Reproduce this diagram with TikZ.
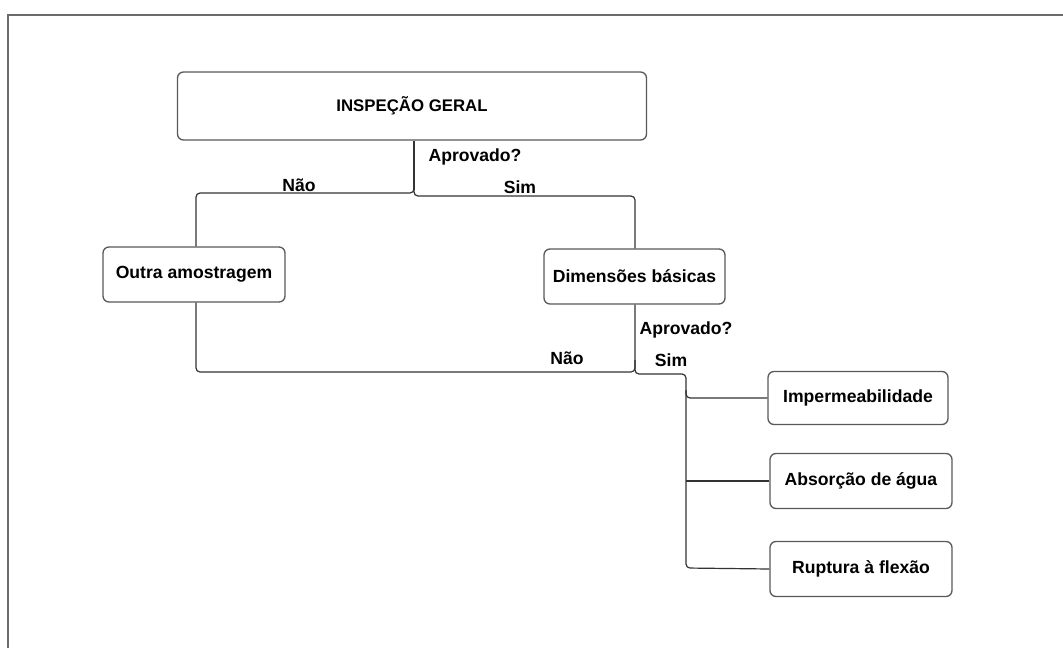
\documentclass[tikz,border=0pt]{standalone}
\usepackage{fontspec}
\setmainfont{Liberation Sans}
\begin{document}
\begin{tikzpicture}[x=1pt,y=-1pt,
  framecol/.style={draw=black!58,line width=2pt},
  stagebox/.style={draw=black!65,line width=1.3pt,rounded corners=6pt,fill=white,
    inner sep=0pt,font=\fontsize{17.6}{20}\selectfont\bfseries},
  conn/.style={draw=black!80,line width=1.2pt,rounded corners=4pt},
  lbl/.style={inner sep=0pt,font=\fontsize{17.6}{20}\selectfont\bfseries}]
\useasboundingbox (0,0) rectangle (1063,648);
% frame (top and left edges)
\draw[framecol] (1063,15) -- (8,15) -- (8,648);
% nodes
\node[stagebox,minimum width=469pt,minimum height=68pt,
  font=\fontsize{16.8}{19}\selectfont\bfseries] (insp) at (412,106) {INSPEÇÃO GERAL};
\node[stagebox,minimum width=182pt,minimum height=55pt] (outra) at (194,274.5) {Outra amostragem};
\node[stagebox,minimum width=181pt,minimum height=55pt] (dim) at (634.5,276.5) {Dimensões básicas};
\node[stagebox,minimum width=180pt,minimum height=53pt] (imp) at (858,398) {Impermeabilidade};
\node[stagebox,minimum width=182pt,minimum height=55pt] (abs) at (861,481) {Absorção de água};
\node[stagebox,minimum width=182pt,minimum height=55pt] (rup) at (861,569) {Ruptura à flexão};
% junction coordinates
\coordinate (j1) at (414,190);
\coordinate (sp) at (686,374);
% connectors from the general inspection
\draw[conn] (insp.south -| j1) -- (j1);
\draw[conn] (j1) -- (414,193) -- (196,193) -- (outra.north -| 196,0);
\draw[conn] (414,188) -- (414,196) -- (635,196) -- (dim.north -| 635,0);
% loop back from dimensions to other sampling
\draw[conn] (outra.south -| 196,0) -- (196,372) -- (635,372) -- (dim.south -| 635,0);
% approved branch
\draw[conn] (635,360) -- (635,374) -- (686,374) -- (686,398) -- (imp.west);
\draw[conn] (686,390) -- (686,568) -- (rup.west);
\draw[conn] (686,481) -- (abs.west);
% labels
\node[lbl] (apr1) at (475,157) {Aprovado?};
\node[lbl] (nao1) at (299,185) {Não};
\node[lbl] (sim1) at (520,187) {Sim};
\node[lbl] (apr2) at (686,330) {Aprovado?};
\node[lbl] (sim2) at (671,360) {Sim};
\node[lbl] (nao2) at (567,358) {Não};
\end{tikzpicture}
\end{document}
